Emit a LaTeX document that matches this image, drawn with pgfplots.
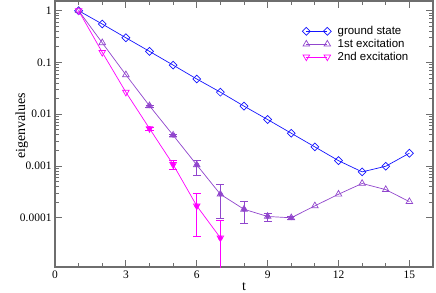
\documentclass[border=0pt]{standalone}
\usepackage{fontspec}
\setmainfont{Liberation Serif}
\newfontfamily\legfont{Liberation Sans}
\usepackage{pgfplots}
\pgfplotsset{compat=1.18}
\definecolor{gsblue}{RGB}{20,20,255}
\definecolor{vio}{RGB}{145,70,205}
\definecolor{mag}{RGB}{255,0,255}
\definecolor{axgray}{RGB}{110,110,110}
\begin{document}
\begin{tikzpicture}
\begin{axis}[
  scale only axis,
  width=378bp, height=266bp,
  xmin=0, xmax=16,
  ymode=log, ymin=1.12e-5, ymax=1.54,
  xtick={0,3,6,9,12,15},
  minor x tick num=2,
  ytick={1e-4,1e-3,1e-2,1e-1,1},
  yticklabels={0.0001,0.001,0.01,0.1,1},
  /pgf/number format/assume math mode=true,
  ticklabel style={font=\fontsize{11.5}{12}\selectfont},
  label style={font=\fontsize{14}{15}\selectfont},
  xlabel={t},
  ylabel={eigenvalues},
  xlabel style={at={(axis description cs:0.5,-0.075)}, anchor=center},
  ylabel style={at={(axis description cs:-0.088,0.53)}, anchor=center},
  axis line style={axgray, line width=1.2bp},
  tick style={axgray, line width=0.8bp},
  major tick length=7bp,
  minor tick length=4bp,
  legend cell align=left,
  legend style={draw=none, fill=none, at={(axis description cs:0.646,0.92)}, anchor=north west,
    font=\legfont\fontsize{11.5}{13.5}\selectfont, row sep=-1bp},
  legend image code/.code={\draw[#1] plot coordinates {(0bp,0bp) (21bp,0bp)}; \path (29bp,0bp);},
  every axis plot/.append style={line width=0.7bp},
]
% error bars (drawn first)
\addplot[forget plot, color=vio, only marks, mark=none, error bars/.cd, y dir=both, y explicit,
  error bar style={color=vio, solid, line width=0.7bp}, error mark options={color=vio, mark size=4bp, rotate=90}]
  coordinates {
  (4,0.01455) += (0,0.0007) -= (0,0.0007)
  (5,0.00394) += (0,0.0002) -= (0,0.0002)
  (6,0.00105) += (0,0.00025) -= (0,0.00039)
  (7,0.000285) += (0,0.000165) -= (0,0.000188)
  (8,0.000146) += (0,0.000064) -= (0,0.000067)
  (9,0.000106) += (0,0.000017) -= (0,0.000019)
  (10,0.0001) += (0,0.000008) -= (0,0.000008)
  };
\addplot[forget plot, color=mag, only marks, mark=none, error bars/.cd, y dir=both, y explicit,
  error bar style={color=mag, solid, line width=0.7bp}, error mark options={color=mag, mark size=4bp, rotate=90}]
  coordinates {
  (4,0.0053) += (0,0.0004) -= (0,0.0004)
  (5,0.00107) += (0,0.00022) -= (0,0.000215)
  (6,0.00017) += (0,0.000125) -= (0,0.000126)
  (7,0.000041) += (0,0.000048) -= (0,0.0000409)
  };
% ground state
\addplot[color=gsblue, mark=square, mark size=2.8bp, mark options={rotate=45, fill=white, solid}]
  coordinates {
  (1,1) (2,0.553) (3,0.30) (4,0.164) (5,0.089) (6,0.048) (7,0.0267) (8,0.01435)
  (9,0.0079) (10,0.0043) (11,0.00234) (12,0.00127) (13,0.00077) (14,0.00099) (15,0.00177)
  };
\addlegendentry{ground state}
% 1st excitation
\addplot[color=vio, mark=triangle, mark size=3.8bp, mark options={fill=white, solid}]
  coordinates {
  (1,1) (2,0.24) (3,0.0578) (4,0.01455) (5,0.00394) (6,0.00105) (7,0.000285) (8,0.000146)
  (9,0.000106) (10,0.0001) (11,0.00017) (12,0.000285) (13,0.00046) (14,0.00035) (15,0.000205)
  };
\addlegendentry{1st excitation}
% 2nd excitation
\addplot[color=mag, mark=triangle, mark size=3.8bp, mark options={rotate=180, fill=white, solid}]
  coordinates {
  (1,1) (2,0.157) (3,0.0267) (4,0.0053) (5,0.00107) (6,0.00017) (7,0.000041)
  };
\addlegendentry{2nd excitation}
\coordinate (sw) at (rel axis cs:0,0);
\coordinate (ne) at (rel axis cs:1,1);
\end{axis}
\pgfresetboundingbox
\path ([shift={(-55bp,-26bp)}]sw) rectangle ([shift={(3bp,1bp)}]ne);
\end{tikzpicture}
\end{document}
